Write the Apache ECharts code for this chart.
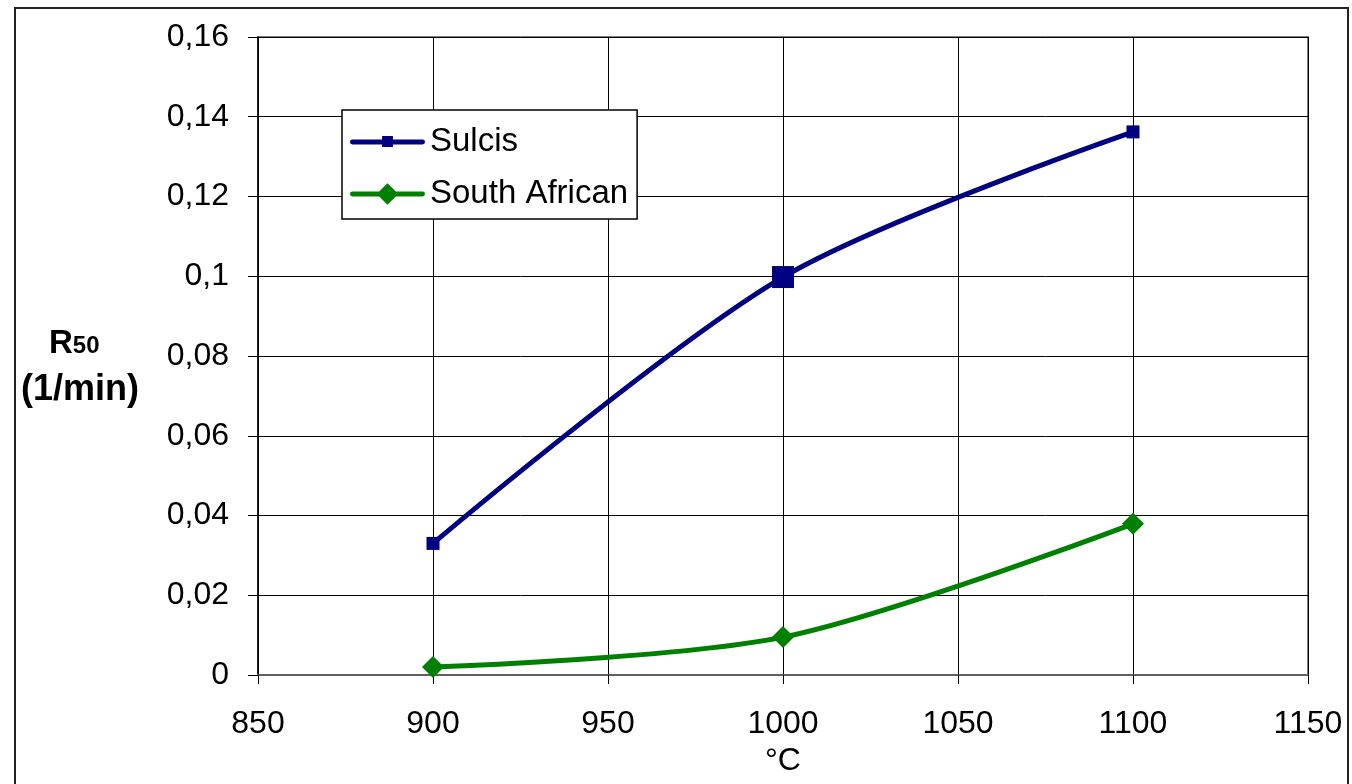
<!DOCTYPE html>
<html>
<head>
<meta charset="utf-8">
<script src="https://cdn.jsdelivr.net/npm/echarts@6/dist/echarts.min.js"></script>
<style>
html,body{margin:0;padding:0;background:#fff;}
#c{width:1352px;height:784px;}
</style>
</head>
<body>
<div id="c"></div>
<script>
const temperatures = [900, 1000, 1100];
const sulcis = [0.033, 0.0998, 0.1362];
const southAfrican = [0.002, 0.0095, 0.0379];
const xTicks = [850, 900, 950, 1000, 1050, 1100, 1150];
const yTicks = [0, 0.02, 0.04, 0.06, 0.08, 0.1, 0.12, 0.14, 0.16];

const FONT = '"Liberation Sans", Arial, sans-serif';
const chart = echarts.init(document.getElementById('c'), null, {renderer: 'canvas'});

function pairs(xs, ys) { return xs.map((x, i) => [x, ys[i]]); }

const sulcisData = pairs(temperatures, sulcis).map((p, i) => ({
  value: p, symbolSize: temperatures[i] === 1000 ? 22 : 13
}));

const sulcisIcon = 'path://M2,8.5 L73,8.5 A2.5,2.5 0 0 1 73,13.5 L2,13.5 A2.5,2.5 0 0 1 2,8.5 Z M32,5 L43,5 L43,16 L32,16 Z M37.5,0 L37.5,0.01 Z M37.5,22 L37.5,21.99 Z';
const saIcon = 'path://M2,8.5 L73,8.5 A2.5,2.5 0 0 1 73,13.5 L2,13.5 A2.5,2.5 0 0 1 2,8.5 Z M37.5,0 L48.5,11 L37.5,22 L26.5,11 Z';

chart.setOption({
  animation: false,
  backgroundColor: '#fff',
  textStyle: {fontFamily: FONT},
  graphic: [
    {type: 'rect', shape: {x: 15, y: 8, width: 1333, height: 790},
     style: {fill: 'none', stroke: '#222', lineWidth: 2}, z: -1},
    {type: 'text', left: 49, top: 327,
     style: {text: '{r|R}{s|50}', rich: {
       r: {fontSize: 33, fontWeight: 'bold', fontFamily: FONT, fill: '#000'},
       s: {fontSize: 24, fontWeight: 'bold', fontFamily: FONT, fill: '#000', padding: [6, 0, 0, 0]}
     }}},
    {type: 'text', left: 21, top: 372,
     style: {text: '(1/min)', fontSize: 36, fontWeight: 'bold', fontFamily: FONT, fill: '#000'}}
  ],
  grid: {left: 258, right: 44, top: 37, bottom: 109, show: true,
         borderColor: '#808080', borderWidth: 2, backgroundColor: 'transparent'},
  legend: {
    left: 342, top: 110, orient: 'vertical',
    backgroundColor: '#fff', borderColor: '#000', borderWidth: 1.5,
    padding: [14, 9, 7, 8], itemGap: 16, itemWidth: 75, itemHeight: 22,
    textStyle: {fontSize: 33, fontFamily: FONT, color: '#000', lineHeight: 36},
    data: [
      {name: 'Sulcis', icon: sulcisIcon, itemStyle: {color: '#000080'}},
      {name: 'South African', icon: saIcon, itemStyle: {color: '#008000'}}
    ]
  },
  xAxis: {
    type: 'value', min: 850, max: 1150, interval: 50,
    name: '°C', nameLocation: 'middle', nameGap: 70,
    nameTextStyle: {fontSize: 32, fontFamily: FONT, color: '#000'},
    axisLine: {show: true, onZero: false, lineStyle: {color: '#606060', width: 2}},
    axisTick: {show: true, length: 9, lineStyle: {color: '#000', width: 1}},
    axisLabel: {fontSize: 32, fontFamily: FONT, color: '#000', margin: 33,
                formatter: v => xTicks.includes(v) ? String(v) : ''},
    splitLine: {show: true, lineStyle: {color: '#000', width: 1}}
  },
  yAxis: {
    type: 'value', min: 0, max: 0.16, interval: 0.02,
    axisLine: {show: true, lineStyle: {color: '#000', width: 1.5}},
    axisTick: {show: true, length: 10, lineStyle: {color: '#000', width: 1}},
    axisLabel: {fontSize: 32, fontFamily: FONT, color: '#000', margin: 29,
                formatter: v => {
                  const t = yTicks.find(y => Math.abs(y - v) < 1e-9);
                  return t === undefined ? '' : String(+t.toFixed(2)).replace('.', ',');
                }},
    splitLine: {show: true, lineStyle: {color: '#000', width: 1}}
  },
  series: [
    {name: 'Sulcis', type: 'line', smooth: 0.3, data: sulcisData,
     symbol: 'rect', symbolSize: 13, showAllSymbol: true,
     itemStyle: {color: '#000080'}, lineStyle: {color: '#000080', width: 5}},
    {name: 'South African', type: 'line', smooth: 0.3, data: pairs(temperatures, southAfrican),
     symbol: 'diamond', symbolSize: 22,
     itemStyle: {color: '#008000'}, lineStyle: {color: '#008000', width: 5}}
  ]
});
</script>
</body>
</html>
